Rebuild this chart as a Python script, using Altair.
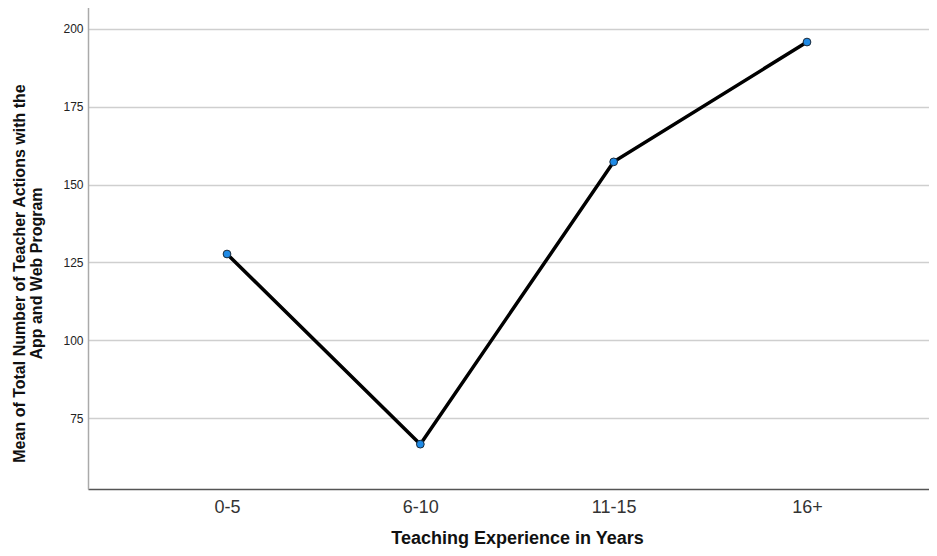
import altair as alt
import pandas as pd

categories = ["0-5", "6-10", "11-15", "16+"]
means = [127.7, 66.6, 157.3, 195.8]

df = pd.DataFrame({"exp": categories, "mean": means})

x = alt.X(
    "exp:N",
    sort=categories,
    scale=alt.Scale(padding=0.719),
    axis=alt.Axis(
        title="Teaching Experience in Years",
        labelAngle=0,
        labelFontSize=18,
        labelColor="#333333",
        labelFont="Liberation Sans",
        labelPadding=9,
        ticks=False,
        domainColor="#555555",
        domainWidth=1.5,
        grid=False,
        titleFont="Liberation Sans",
        titleFontSize=18,
        titleFontWeight="bold",
        titleColor="#111111",
        titlePadding=13,
    ),
)
y = alt.Y(
    "mean:Q",
    scale=alt.Scale(domain=[52.2, 207.7], nice=False, zero=False),
    axis=alt.Axis(
        title=["Mean of Total Number of Teacher Actions with the", "App and Web Program"],
        values=[75, 100, 125, 150, 175, 200],
        labelFontSize=12,
        labelColor="#222222",
        labelFont="Liberation Sans",
        labelPadding=5,
        ticks=False,
        domainColor="#aaaaaa",
        domainWidth=1.5,
        grid=True,
        gridColor="#cfcfcf",
        gridWidth=1.5,
        titleFont="Liberation Sans",
        titleFontSize=16,
        titleFontWeight="bold",
        titleColor="#111111",
        titlePadding=18,
        titleLineHeight=17,
        titleY=268,
    ),
)

line = alt.Chart(df).mark_line(color="black", strokeWidth=3.5).encode(x=x, y=y)
pts = alt.Chart(df).mark_point(
    filled=True, fill="#1e8ae6", stroke="#1a2a3a", strokeWidth=1, size=60, opacity=1
).encode(x=x, y=y)

chart = (
    alt.layer(line, pts)
    .properties(
        width=858,
        height=484,
        autosize=alt.AutoSizeParams(type="none"),
        padding={"left": 80, "top": -3, "right": -17, "bottom": 59},
    )
    .configure_view(stroke=None)
    .configure(background="white")
)

chart.save("out.html", embed_options={"renderer": "svg", "actions": False})
